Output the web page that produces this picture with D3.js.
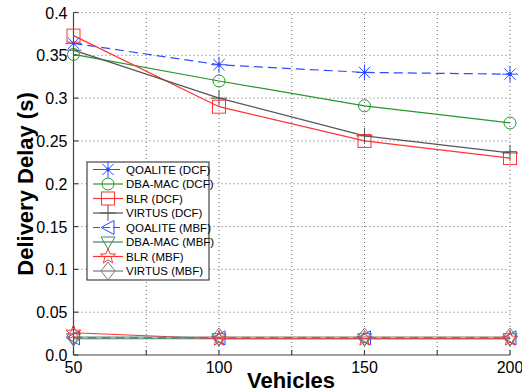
<!DOCTYPE html>
<html>
<head>
<meta charset="utf-8">
<script src="https://cdn.jsdelivr.net/npm/d3@7"></script>
<style>
  body { margin: 0; background: #fff; }
  svg { display: block; font-family: Arial, "Liberation Sans", sans-serif; }
</style>
</head>
<body>
<svg id="viz"></svg>
<script>
const width = 522, height = 392;

// data
const vehicles = [50, 100, 150, 200];
const xTicks = [50, 100, 150, 200];
const yTicks = [0, 0.05, 0.1, 0.15, 0.2, 0.25, 0.3, 0.35, 0.4];
const yTickLabels = ["0.0", "0.05", "0.1", "0.15", "0.2", "0.25", "0.3", "0.35", "0.4"];

const qoaliteDCF = [0.364, 0.339, 0.330, 0.328];
const dbaDCF     = [0.351, 0.320, 0.291, 0.271];
const blrDCF     = [0.373, 0.290, 0.250, 0.230];
const virtusDCF  = [0.356, 0.300, 0.256, 0.236];
const qoaliteMBF = [0.020, 0.020, 0.020, 0.020];
const dbaMBF     = [0.019, 0.019, 0.019, 0.019];
const blrMBF     = [0.026, 0.019, 0.019, 0.019];
const virtusMBF  = [0.021, 0.021, 0.021, 0.021];

const series = [
  { name: "QOALITE (DCF)", values: qoaliteDCF, color: "#2f4bff", dash: "9,5", marker: "star" },
  { name: "DBA-MAC (DCF)", values: dbaDCF, color: "#22992a", dash: null, marker: "circle" },
  { name: "BLR (DCF)", values: blrDCF, color: "#ff3333", dash: null, marker: "square" },
  { name: "VIRTUS (DCF)", values: virtusDCF, color: "#555555", dash: null, marker: "plus" },
  { name: "QOALITE (MBF)", values: qoaliteMBF, color: "#2f4bff", dash: "9,5", marker: "triLeft" },
  { name: "DBA-MAC (MBF)", values: dbaMBF, color: "#3d8a5e", dash: null, marker: "triDown" },
  { name: "BLR (MBF)", values: blrMBF, color: "#ff3333", dash: null, marker: "pentagram" },
  { name: "VIRTUS (MBF)", values: virtusMBF, color: "#777777", dash: null, marker: "diamond" }
];

const svg = d3.select("#viz").attr("width", width).attr("height", height);

const x = d3.scaleLinear().domain([50, 200]).range([73.5, 510]);
const y = d3.scaleLinear().domain([0, 0.4]).range([355, 12.5]);

// grid
const grid = svg.append("g").attr("stroke", "#666").attr("stroke-width", 1)
  .attr("stroke-dasharray", "1,3").attr("fill", "none");
d3.range(75, 201, 25).forEach(v => {
  grid.append("line").attr("x1", x(v)).attr("x2", x(v)).attr("y1", y(0)).attr("y2", y(0.4));
});
yTicks.slice(1).forEach(v => {
  grid.append("line").attr("x1", x(50)).attr("x2", x(200)).attr("y1", y(v)).attr("y2", y(v));
});

// axes
const axisG = svg.append("g").attr("stroke", "#444").attr("stroke-width", 1.2);
axisG.append("line").attr("x1", x(50)).attr("x2", x(50)).attr("y1", y(0)).attr("y2", y(0.4));
axisG.append("line").attr("x1", x(50)).attr("x2", x(200)).attr("y1", y(0)).attr("y2", y(0));
yTicks.forEach(v => {
  axisG.append("line").attr("x1", x(50)).attr("x2", x(50) + 5).attr("y1", y(v)).attr("y2", y(v));
});
d3.range(50, 201, 25).forEach(v => {
  axisG.append("line").attr("x1", x(v)).attr("x2", x(v)).attr("y1", y(0)).attr("y2", y(0) - 5);
});

svg.append("g").selectAll("text").data(yTicks).join("text")
  .attr("x", x(50) - 6).attr("y", d => y(d) + 6)
  .attr("text-anchor", "end").attr("font-size", 16).attr("fill", "#000")
  .text((d, i) => yTickLabels[i]);

svg.append("g").selectAll("text").data(xTicks).join("text")
  .attr("x", d => x(d)).attr("y", 373)
  .attr("text-anchor", "middle").attr("font-size", 16).attr("fill", "#000")
  .text(d => d);

svg.append("text").attr("x", 291).attr("y", 388).attr("text-anchor", "middle")
  .attr("font-size", 22).attr("font-weight", "bold").text("Vehicles");
svg.append("text").attr("transform", "translate(33,184) rotate(-90)")
  .attr("text-anchor", "middle").attr("font-size", 22).attr("font-weight", "bold")
  .text("Delivery Delay (s)");

// markers
function drawMarker(g, type, cx, cy, color) {
  const m = g.append("g").attr("transform", `translate(${cx},${cy})`)
    .attr("fill", "none").attr("stroke", color).attr("stroke-width", 1);
  if (type === "star") {
    [0, 45, 90, 135].forEach(a => {
      const r = 8, t = a * Math.PI / 180;
      m.append("line").attr("x1", -r * Math.cos(t)).attr("y1", -r * Math.sin(t))
        .attr("x2", r * Math.cos(t)).attr("y2", r * Math.sin(t));
    });
    m.append("circle").attr("r", 1.5).attr("fill", color);
  } else if (type === "circle") {
    m.append("circle").attr("r", 6);
  } else if (type === "square") {
    m.append("rect").attr("x", -6.5).attr("y", -6.5).attr("width", 13).attr("height", 13);
  } else if (type === "plus") {
    m.append("line").attr("x1", 0).attr("x2", 0).attr("y1", -8).attr("y2", 8);
    m.append("line").attr("x1", -8).attr("x2", 8).attr("y1", 0).attr("y2", 0);
  } else if (type === "triLeft") {
    m.append("path").attr("d", "M-7,0L6,-7L6,7Z");
  } else if (type === "triDown") {
    m.append("path").attr("d", "M-7,-5L7,-5L0,7Z");
  } else if (type === "pentagram") {
    const pts = d3.range(10).map(i => {
      const r = i % 2 === 0 ? 8 : 3.3, a = -Math.PI / 2 + i * Math.PI / 5;
      return [r * Math.cos(a), r * Math.sin(a)];
    });
    m.append("path").attr("d", "M" + pts.join("L") + "Z");
  } else if (type === "diamond") {
    m.append("path").attr("d", "M0,-9L7,0L0,9L-7,0Z");
  }
}

const line = d3.line().x((d, i) => x(vehicles[i])).y(d => y(d));
const plot = svg.append("g");
series.forEach(s => {
  plot.append("path").datum(s.values).attr("d", line)
    .attr("fill", "none").attr("stroke", s.color).attr("stroke-width", 1.2)
    .attr("stroke-dasharray", s.dash);
});
series.forEach(s => {
  s.values.forEach((v, i) => drawMarker(plot, s.marker, x(vehicles[i]), y(v), s.color));
});

// legend
const legend = svg.append("g");
legend.append("rect").attr("x", 87).attr("y", 162).attr("width", 122).attr("height", 118)
  .attr("fill", "#fff").attr("stroke", "#444").attr("stroke-width", 1.2);
series.forEach((s, i) => {
  const ly = 169.5 + i * 14.5;
  legend.append("line").attr("x1", 93).attr("x2", 123).attr("y1", ly).attr("y2", ly)
    .attr("stroke", s.color).attr("stroke-width", 1.2).attr("stroke-dasharray", s.dash ? "7,3" : null);
  drawMarker(legend, s.marker, 108, ly, s.color);
  legend.append("text").attr("x", 126).attr("y", ly + 4).attr("font-size", 11.5)
    .attr("fill", "#000").text(s.name);
});
</script>
</body>
</html>
